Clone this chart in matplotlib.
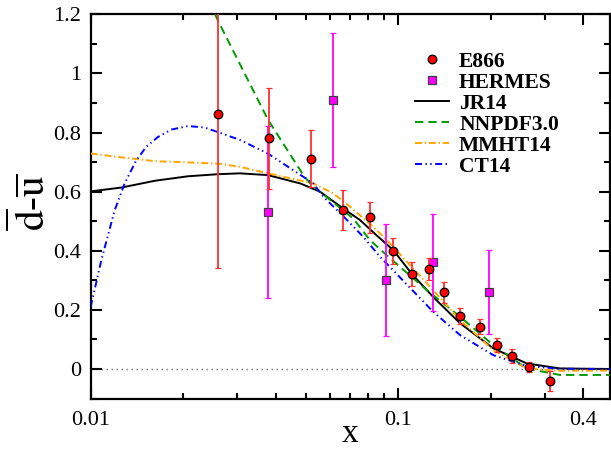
import matplotlib
matplotlib.use("Agg")
import matplotlib.pyplot as plt
from matplotlib.lines import Line2D
from matplotlib.ticker import FixedLocator, FixedFormatter, NullFormatter

plt.rcParams["font.family"] = ["Liberation Serif", "DejaVu Serif"]
plt.rcParams["mathtext.fontset"] = "stix"
plt.rcParams["lines.scale_dashes"] = False

# E866 Drell-Yan data
e866_x = [0.026, 0.038, 0.052, 0.066, 0.081, 0.096, 0.111, 0.126, 0.141,
          0.159, 0.185, 0.209, 0.234, 0.267, 0.312]
e866_y = [0.862, 0.780, 0.712, 0.538, 0.513, 0.400, 0.321, 0.338, 0.259,
          0.180, 0.143, 0.081, 0.045, 0.007, -0.040]
e866_err = [0.52, 0.17, 0.097, 0.069, 0.053, 0.044, 0.040, 0.037, 0.037,
            0.027, 0.025, 0.023, 0.024, 0.018, 0.033]

# HERMES SIDIS data
hermes_x = [0.0377, 0.0616, 0.0913, 0.130, 0.197]
hermes_y = [0.531, 0.910, 0.301, 0.361, 0.261]
hermes_err = [0.29, 0.227, 0.19, 0.165, 0.143]

# PDF fits
jr14_x = [0.01, 0.0126, 0.0162, 0.0207, 0.0259, 0.0306, 0.0377, 0.048, 0.0557,
          0.0663, 0.0752, 0.0852, 0.0965, 0.111, 0.130, 0.159, 0.204, 0.262,
          0.336, 0.49]
jr14_y = [0.601, 0.614, 0.637, 0.652, 0.659, 0.662, 0.656, 0.628, 0.600,
          0.543, 0.504, 0.452, 0.402, 0.321, 0.244, 0.155, 0.070, 0.019,
          0.002, 0.0]

nnpdf_x = [0.0254, 0.0259, 0.0378, 0.0492, 0.0517, 0.0557, 0.0632, 0.0715,
           0.0810, 0.0918, 0.124, 0.159, 0.204, 0.262, 0.336, 0.49]
nnpdf_y = [1.2, 1.18, 0.842, 0.656, 0.628, 0.600, 0.554, 0.509,
           0.436, 0.385, 0.267, 0.177, 0.081, 0.002, -0.020, -0.020]

mmht_x = [0.01, 0.0126, 0.0162, 0.0207, 0.0259, 0.0306, 0.0377, 0.0530,
          0.0616, 0.0698, 0.0852, 0.0941, 0.124, 0.159, 0.204, 0.262, 0.336,
          0.49]
mmht_y = [0.729, 0.716, 0.703, 0.699, 0.695, 0.684, 0.662, 0.628,
          0.594, 0.549, 0.470, 0.425, 0.290, 0.166, 0.064, 0.002, -0.006,
          -0.005]

ct14_x = [0.01, 0.01083, 0.01197, 0.0129, 0.01407, 0.01517, 0.01655, 0.01829,
          0.02073, 0.02349, 0.02585, 0.0306, 0.0377, 0.0530, 0.0571, 0.0663,
          0.0771, 0.0873, 0.130, 0.159, 0.204, 0.262, 0.336, 0.49]
ct14_y = [0.21, 0.368, 0.537, 0.628, 0.706, 0.752, 0.785, 0.810,
          0.822, 0.817, 0.802, 0.775, 0.729, 0.628, 0.583, 0.517,
          0.447, 0.380, 0.194, 0.115, 0.047, 0.010, 0.001, 0.0]

x_major = [0.01, 0.1, 0.4]
x_major_labels = ["0.01", "0.1", "0.4"]
x_minor = [0.02, 0.03, 0.04, 0.05, 0.06, 0.07, 0.08, 0.09, 0.2, 0.3]
y_major = [0.0, 0.2, 0.4, 0.6, 0.8, 1.0, 1.2]
y_major_labels = ["0", "0.2", "0.4", "0.6", "0.8", "1", "1.2"]
y_minor = [-0.1, 0.1, 0.3, 0.5, 0.7, 0.9, 1.1]

fig = plt.figure(figsize=(6.11, 4.51), dpi=100)
ax = fig.add_axes([0.1484, 0.1162, 0.8504, 0.8521])
ax.set_xscale("log")
ax.set_xlim(0.01, 0.49)
ax.set_ylim(-0.1, 1.2)

ax.axhline(0.0, color="#707070", lw=1.0, dashes=(1.0, 2.6), zorder=1)

lw = 1.4
ax.plot(jr14_x, jr14_y, color="black", lw=lw, zorder=3)
ax.plot(nnpdf_x, nnpdf_y, color="#009a00", lw=lw, dashes=(6, 3.6), zorder=3)
ax.plot(mmht_x, mmht_y, color="#ffa500", lw=lw, dashes=(5, 2, 1, 2), zorder=3)
ax.plot(ct14_x, ct14_y, color="#0000ff", lw=lw,
        dashes=(5, 2.5, 1, 2.5, 1, 2.5), zorder=3)

ax.errorbar(e866_x, e866_y, yerr=e866_err, fmt="o", ms=6.2, mfc="#ff0000",
            mec="black", mew=0.9, ecolor="#ff3030", elinewidth=1.3,
            capsize=2, capthick=1.0, zorder=6)
ax.errorbar(hermes_x, hermes_y, yerr=hermes_err, fmt="s", ms=5.6,
            mfc="#ff00ff", mec="#404040", mew=0.9, ecolor="#ff00ff",
            elinewidth=1.3, capsize=2, capthick=1.0, zorder=5)

ax.xaxis.set_major_locator(FixedLocator(x_major))
ax.xaxis.set_major_formatter(FixedFormatter(x_major_labels))
ax.xaxis.set_minor_locator(FixedLocator(x_minor))
ax.xaxis.set_minor_formatter(NullFormatter())
ax.yaxis.set_major_locator(FixedLocator(y_major))
ax.yaxis.set_major_formatter(FixedFormatter(y_major_labels))
ax.yaxis.set_minor_locator(FixedLocator(y_minor))

ax.tick_params(which="both", direction="in", top=True, right=True,
               width=1.5, labelsize=16)
ax.tick_params(which="major", length=8)
ax.tick_params(which="minor", length=4.5)
ax.tick_params(axis="x", which="major", pad=9)
ax.tick_params(axis="y", which="major", pad=7)
for s in ax.spines.values():
    s.set_linewidth(1.6)

ax.set_xlabel("x", fontsize=24)
ax.xaxis.label.set_verticalalignment("baseline")
ax.xaxis.set_label_coords(0.5, -0.113)
ax.set_ylabel(r"$\overline{\mathrm{d}}$-$\overline{\mathrm{u}}$", fontsize=30)
ax.yaxis.set_label_coords(-0.072, 0.51)

handles = [
    Line2D([], [], ls="none", marker="o", ms=6.2, mfc="#ff0000", mec="black", mew=0.9),
    Line2D([], [], ls="none", marker="s", ms=5.6, mfc="#ff00ff", mec="#404040", mew=0.9),
    Line2D([], [], color="black", lw=lw),
    Line2D([], [], color="#009a00", lw=lw, dashes=(6, 3.6)),
    Line2D([], [], color="#ffa500", lw=lw, dashes=(5, 2, 1, 2)),
    Line2D([], [], color="#0000ff", lw=lw, dashes=(5, 2.5, 1, 2.5, 1, 2.5)),
]
labels = ["E866", "HERMES", "JR14", "NNPDF3.0", "MMHT14", "CT14"]
ax.legend(handles, labels, loc="upper left", bbox_to_anchor=(415 / 611, 1 - 51.5 / 451),
          bbox_transform=fig.transFigure, frameon=False, borderpad=0,
          borderaxespad=0, handlelength=1.6, handletextpad=0.45,
          labelspacing=0.045, prop={"weight": "bold", "size": 15.5})

fig.savefig("out.png", dpi=100)
